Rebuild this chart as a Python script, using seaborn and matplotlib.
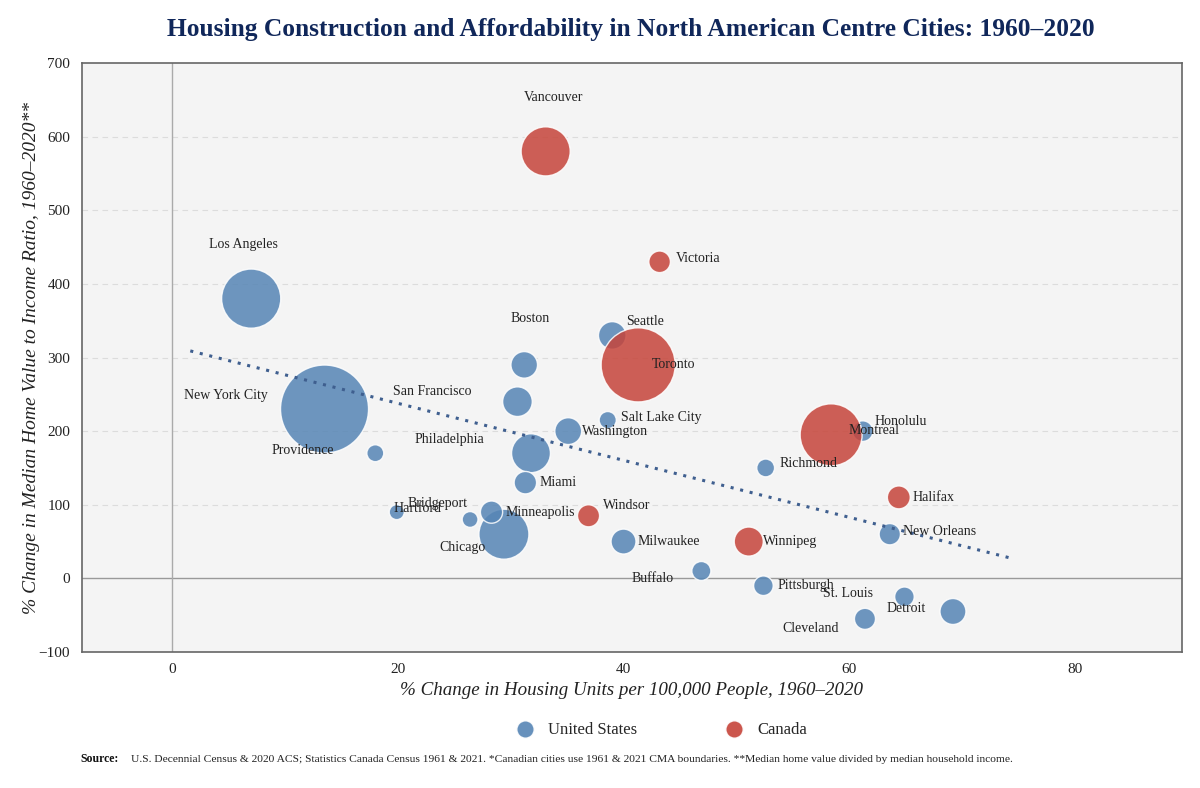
import numpy as np
import pandas as pd
import matplotlib
matplotlib.use('Agg')
import matplotlib.pyplot as plt
from matplotlib.lines import Line2D
import seaborn as sns

# ---- data ----
cities = ['New York City', 'Los Angeles', 'Chicago', 'Philadelphia', 'San Francisco',
          'Boston', 'Washington', 'Seattle', 'Miami', 'Minneapolis', 'Milwaukee',
          'Salt Lake City', 'Providence', 'Hartford', 'Bridgeport', 'Buffalo',
          'Pittsburgh', 'Richmond', 'Honolulu', 'New Orleans', 'St. Louis', 'Detroit',
          'Cleveland',
          'Toronto', 'Montreal', 'Vancouver', 'Victoria', 'Windsor', 'Winnipeg', 'Halifax']
country = ['United States'] * 23 + ['Canada'] * 7
housing_change = [13.5, 7.0, 29.4, 31.8, 30.6, 31.2, 35.1, 39.0, 31.3, 28.3, 40.0,
                  38.6, 18.0, 19.9, 26.4, 46.9, 52.4, 52.6, 61.2, 63.6, 64.9, 69.2,
                  61.4,
                  41.3, 58.4, 33.1, 43.2, 36.9, 51.1, 64.4]
ratio_change = [230, 380, 60, 170, 240, 290, 200, 330, 130, 90, 50,
                215, 170, 90, 80, 10, -10, 150, 200, 60, -25, -45,
                -55,
                290, 195, 580, 430, 85, 50, 110]
population = [8804, 3899, 2746, 1604, 874, 676, 690, 737, 442, 430, 577,
              200, 190, 121, 149, 278, 303, 226, 350, 384, 301, 639,
              373,
              6202, 4292, 2643, 398, 422, 835, 466]
trend_x = [1.6, 74.2]
trend_y = [309, 28]

df = pd.DataFrame({'city': cities, 'country': country, 'housing': housing_change,
                   'ratio': ratio_change, 'pop': population})

# label placement (offset pixels, alignment)
label_pos = {
    'Vancouver': (8, 54, 'center'), 'Los Angeles': (-8, 54, 'center'), 'Boston': (6, 46, 'center'),
    'New York City': (-57, 14, 'right'), 'Providence': (-41, 3, 'right'),
    'San Francisco': (-46, 10, 'right'), 'Philadelphia': (-47, 14, 'right'),
    'Chicago': (-18, -13, 'right'), 'Bridgeport': (-3, 16, 'right'),
    'Buffalo': (-28, -7, 'right'), 'St. Louis': (-31, 3, 'right'),
    'Detroit': (-27, 3, 'right'), 'Cleveland': (-26, -10, 'right'),
    'Hartford': (-3, 4, 'left'), 'Seattle': (14, 14, 'left'), 'Honolulu': (12, 10, 'left'),
    'Windsor': (14, 10, 'left'), 'Richmond': (14, 4, 'left'), 'Montreal': (17, 4, 'left'),
    'Victoria': (16, 3, 'left'), 'Salt Lake City': (13, 3, 'left'), 'New Orleans': (13, 3, 'left'),
}

BLUE = '#5685b5'
RED = '#c6443a'
NAVY = '#10275a'
SERIF = 'Liberation Serif'

sns.set_style('white')
plt.rcParams['font.family'] = [SERIF, 'DejaVu Serif']

fig = plt.figure(figsize=(12, 7.88), dpi=100)
ax = fig.add_axes([0.0683, 0.1726, 0.9167, 0.7474])
ax.set_facecolor('#f4f4f4')

for y in [100, 200, 300, 400, 500, 600]:
    ax.axhline(y, color='#dcdcdc', linestyle=(0, (5, 4)), linewidth=0.8, zorder=0)
ax.axhline(0, color='#999999', linewidth=1, zorder=1)
ax.axvline(0, color='#aaaaaa', linewidth=1, zorder=1)

sns.scatterplot(data=df, x='housing', y='ratio', hue='country', size='pop',
                sizes=(117, 4014), palette={'United States': BLUE, 'Canada': RED},
                alpha=0.85, edgecolor='white', linewidth=1, legend=False, ax=ax, zorder=3)

ax.plot(trend_x, trend_y, linestyle=(0, (1, 2.2)), color='#3f5f8f', linewidth=2.2, zorder=4)

for _, row in df.iterrows():
    dx, dy, ha = label_pos.get(row.city, (14, 0, 'left'))
    ax.annotate(row.city, (row.housing, row.ratio), xytext=(dx, dy), textcoords='offset pixels',
                ha=ha, va='center', fontsize=10, color='#222222', zorder=5)

ax.set_xlim(-8, 89.5)
ax.set_ylim(-100, 700)
ax.set_xticks([0, 20, 40, 60, 80])
ax.set_yticks(range(-100, 701, 100))
ax.tick_params(axis='both', which='major', length=5, width=1, color='#555555',
               labelsize=11, labelcolor='#222222', direction='out')
ax.tick_params(axis='x', pad=3)
for s in ax.spines.values():
    s.set_color('#666666')
    s.set_linewidth(1.2)

ax.set_xlabel('% Change in Housing Units per 100,000 People, 1960–2020',
              fontsize=13.7, style='italic', color='#222222', labelpad=4.5)
ax.set_ylabel('% Change in Median Home Value to Income Ratio, 1960–2020**',
              fontsize=14, style='italic', color='#222222', labelpad=-1)

fig.suptitle('Housing Construction and Affordability in North American Centre Cities: 1960–2020',
             x=0.526, y=0.977, fontsize=18.4, fontweight='bold', color=NAVY)

handles = [Line2D([], [], marker='o', linestyle='none', markersize=12.5, markerfacecolor=BLUE,
                  markeredgecolor='white', alpha=0.9),
           Line2D([], [], marker='o', linestyle='none', markersize=12.5, markerfacecolor=RED,
                  markeredgecolor='white', alpha=0.9)]
fig.legend(handles, ['United States', 'Canada'], loc='center', bbox_to_anchor=(0.548, 0.073),
           ncol=2, frameon=False, fontsize=12, columnspacing=4.8, handletextpad=0.4)

fig.text(0.067, 0.033, 'Source:', fontsize=8.5, fontweight='bold', color='#111111')
fig.text(0.109, 0.033, 'U.S. Decennial Census & 2020 ACS; Statistics Canada Census 1961 & 2021. '
         '*Canadian cities use 1961 & 2021 CMA boundaries. **Median home value divided by median household income.',
         fontsize=8.25, color='#222222')

fig.savefig('out.png', dpi=100)
